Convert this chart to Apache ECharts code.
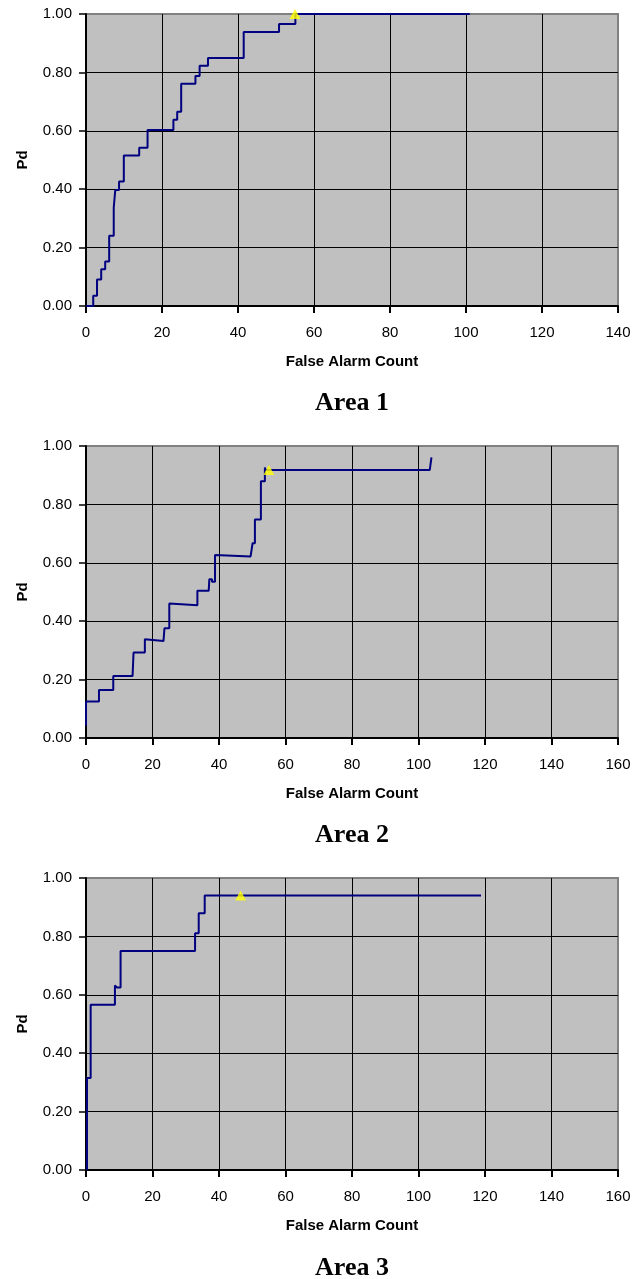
<!DOCTYPE html>
<html>
<head>
<meta charset="utf-8">
<script src="https://cdn.jsdelivr.net/npm/echarts@6/dist/echarts.min.js"></script>
<style>
html,body{margin:0;padding:0;background:#fff;}
#c{width:638px;height:1279px;}
</style>
</head>
<body>
<div id="c"></div>
<script>
// ---- data ----
var titles = ['Area 1', 'Area 2', 'Area 3'];
var xMax = [140, 160, 160];
var yTicks = ['0.00', '0.20', '0.40', '0.60', '0.80', '1.00'];

var area1X  = [0, 1.9, 2.9, 4.0, 5.05, 6.1, 7.3, 7.7, 8.7, 9.95, 14.0, 16.2, 23.0, 24.0, 25.05, 28.8, 29.9, 32.1, 41.5, 50.8, 55.1, 101];
var area1Pd = [0, 0.035, 0.091, 0.126, 0.152, 0.241, 0.337, 0.397, 0.426, 0.515, 0.542, 0.603, 0.638, 0.665, 0.761, 0.788, 0.823, 0.849, 0.938, 0.966, 1.0, 1.0];

var area2X  = [0, 0, 3.9, 8.2, 14.0, 14.3, 17.7, 18.2, 23.3, 23.6, 25.05, 25.5, 33.5, 36.9, 37.1, 37.9, 38.8, 39.2, 49.5, 50.1, 50.8, 52.6, 53.8, 54.0, 103.4, 103.4, 103.9, 103.9];
var area2Pd = [0.042, 0.125, 0.164, 0.212, 0.207, 0.293, 0.338, 0.332, 0.327, 0.376, 0.461, 0.455, 0.504, 0.499, 0.544, 0.535, 0.627, 0.622, 0.617, 0.667, 0.748, 0.879, 0.926, 0.918, 0.918, 0.912, 0.912, 0.961];

var area3X  = [0.3, 0.3, 1.4, 8.7, 9.3, 10.4, 32.8, 33.9, 35.7, 118.8];
var area3Pd = [0, 0.315, 0.566, 0.632, 0.625, 0.750, 0.811, 0.879, 0.940, 0.940];

// operating point markers (yellow triangles)
var markX  = [55, 55, 46.5];
var markPd = [1.0, 0.918, 0.94];

// ---- layout ----
var gridTops = [14, 446, 878];
var gridH = 292;
var titleY = [403, 835, 1268];

var seriesX = [area1X, area2X, area3X];
var seriesY = [area1Pd, area2Pd, area3Pd];

function pairs(xs, ys) {
  return xs.map(function (x, i) { return [x, ys[i]]; });
}

var grids = [], xAxes = [], yAxes = [], series = [], graphics = [];
var sansFont = '"Liberation Sans", Arial, sans-serif';

for (var i = 0; i < 3; i++) {
  grids.push({
    left: 86, right: 20, top: gridTops[i], height: gridH,
    show: true, backgroundColor: '#c0c0c0', borderColor: '#808080', borderWidth: 2
  });
  xAxes.push({
    type: 'value', gridIndex: i, min: 0, max: xMax[i], interval: 20,
    name: 'False Alarm Count', nameLocation: 'middle', nameGap: 48,
    nameTextStyle: { fontFamily: sansFont, fontWeight: 'bold', fontSize: 15, color: '#000' },
    axisLine: { show: true, onZero: false, lineStyle: { color: '#000', width: 2 } },
    axisTick: { show: true, inside: false, length: 7, lineStyle: { color: '#000', width: 2 } },
    axisLabel: { fontFamily: sansFont, fontSize: 15, color: '#000', margin: 19 },
    splitLine: { show: true, showMinLine: false, showMaxLine: false, lineStyle: { color: '#000', width: 1 } }
  });
  yAxes.push({
    type: 'value', gridIndex: i, min: 0, max: 1, interval: 0.2,
    name: 'Pd', nameLocation: 'middle', nameGap: 56, nameRotate: 90,
    nameTextStyle: { fontFamily: sansFont, fontWeight: 'bold', fontSize: 15, color: '#000' },
    axisLine: { show: true, lineStyle: { color: '#000', width: 2 } },
    axisTick: { show: true, inside: false, length: 7, lineStyle: { color: '#000', width: 1.5 } },
    axisLabel: {
      fontFamily: sansFont, fontSize: 15, color: '#000', margin: 14,
      formatter: function (v) { return yTicks[Math.round(v / 0.2)]; }
    },
    splitLine: { show: true, showMinLine: false, showMaxLine: false, lineStyle: { color: '#000', width: 1 } }
  });
  series.push({
    type: 'line', xAxisIndex: i, yAxisIndex: i, step: 'end',
    data: pairs(seriesX[i], seriesY[i]),
    showSymbol: false, symbol: 'none', clip: false, z: 3,
    lineStyle: { color: '#000080', width: 2 }
  });
  series.push({
    type: 'scatter', xAxisIndex: i, yAxisIndex: i,
    data: [[markX[i], markPd[i]]],
    symbol: 'triangle', symbolSize: [11, 10], clip: false, z: 4,
    itemStyle: { color: '#ffff00' }
  });
  graphics.push({
    type: 'text', x: 352, y: titleY[i],
    style: {
      text: titles[i], fill: '#000',
      font: 'bold 26px "Liberation Serif", "Times New Roman", serif',
      textAlign: 'center', textVerticalAlign: 'middle'
    }
  });
}

var chart = echarts.init(document.getElementById('c'), null, { renderer: 'canvas' });
chart.setOption({
  animation: false,
  grid: grids,
  xAxis: xAxes,
  yAxis: yAxes,
  series: series,
  graphic: graphics
});
</script>
</body>
</html>
